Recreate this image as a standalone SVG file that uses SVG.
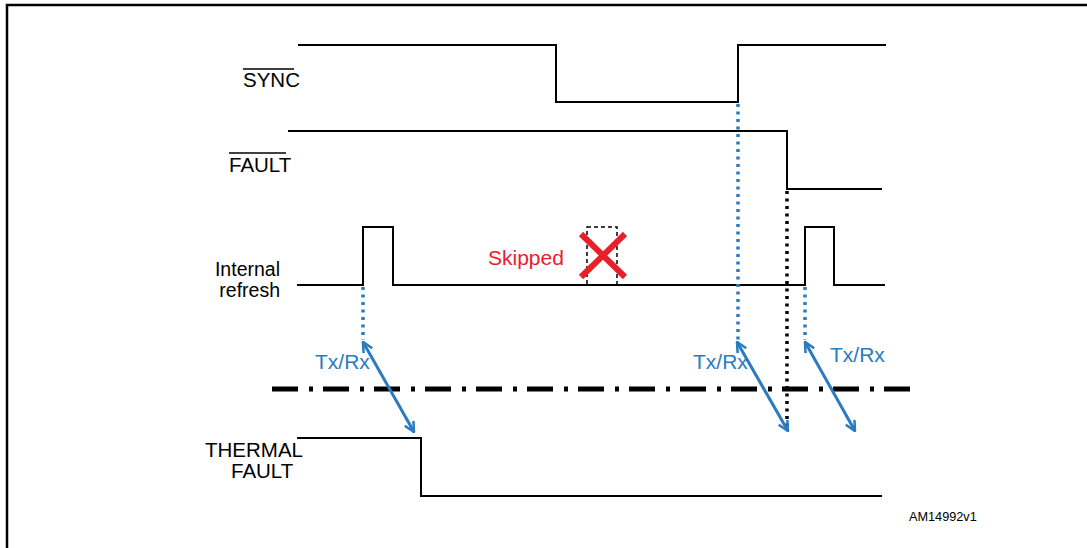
<svg xmlns="http://www.w3.org/2000/svg" width="1087" height="548" viewBox="0 0 1087 548">
<defs>
<style>
.sig{fill:none;stroke:#000;stroke-width:2}
.lbl{font-family:"Liberation Sans",Arial,sans-serif;font-size:20.5px;fill:#000}
.lbl2{font-family:"Liberation Sans",Arial,sans-serif;font-size:19.5px;fill:#000}
.blue{font-family:"Liberation Sans",Arial,sans-serif;font-size:21px;fill:#2a7bbf}
.bdot{stroke:#2a7bbf;stroke-width:3.5;stroke-dasharray:3 4.5;fill:none}
.kdot{stroke:#000;stroke-width:3.5;stroke-dasharray:3 4.5;fill:none}
.arr{stroke:#2a7bbf;stroke-width:3;fill:none;marker-start:url(#ah);marker-end:url(#ah)}
</style>
<marker id="ah" viewBox="0 0 12 12" refX="11" refY="6" markerWidth="12" markerHeight="12" markerUnits="userSpaceOnUse" orient="auto-start-reverse">
<polyline points="1,1 11,6 1,11" fill="none" stroke="#2a7bbf" stroke-width="2.5"/>
</marker>
</defs>
<rect x="0" y="0" width="1087" height="548" fill="#fff"/>
<rect x="7" y="5" width="1100" height="570" fill="none" stroke="#000" stroke-width="2.5"/>

<g id="sync">
<polyline class="sig" points="298,45 556,45 556,102 738,102 738,45 886,45"/>
<text class="lbl" x="243" y="87">SYNC</text>
<line x1="243" y1="69" x2="294" y2="69" stroke="#000" stroke-width="1.5"/>
</g>

<g id="fault">
<polyline class="sig" points="288,131 787,131 787,189 882,189"/>
<text class="lbl" x="229" y="172">FAULT</text>
<line x1="229" y1="153" x2="286" y2="153" stroke="#000" stroke-width="1.5"/>
</g>

<g id="refresh">
<polyline class="sig" points="297,285 363,285 363,227 393,227 393,285 805,285 805,227 834,227 834,285 885,285"/>
<text class="lbl2" text-anchor="end" x="280" y="276">Internal</text>
<text class="lbl2" text-anchor="end" x="280" y="297">refresh</text>
</g>

<g id="skipped">
<rect x="587" y="227" width="30" height="58" fill="none" stroke="#000" stroke-width="1.5" stroke-dasharray="4 3"/>
<line x1="581" y1="234" x2="625" y2="277" stroke="#e8202a" stroke-width="6"/>
<line x1="625" y1="234" x2="581" y2="277" stroke="#e8202a" stroke-width="6"/>
<text x="488" y="265" font-family="Liberation Sans,Arial,sans-serif" font-size="21px" fill="#e8202a">Skipped</text>
</g>

<g id="thermal">
<polyline class="sig" points="297,438 421,438 421,496 882,496"/>
<text class="lbl" x="205" y="457">THERMAL</text>
<text class="lbl" x="231" y="478">FAULT</text>
</g>

<g id="boundary">
<line x1="272" y1="389" x2="912" y2="389" stroke="#000" stroke-width="5" stroke-dasharray="26 11 4 10"/>
</g>

<g id="connectors">
<line class="bdot" x1="363" y1="287" x2="363" y2="340"/>
<line class="bdot" x1="738" y1="104" x2="738" y2="340"/>
<line class="bdot" x1="805" y1="287" x2="805" y2="340"/>
<line class="kdot" x1="787" y1="191" x2="787" y2="430"/>
<line class="arr" x1="363" y1="342" x2="414" y2="432"/>
<line class="arr" x1="737" y1="342" x2="788" y2="431"/>
<line class="arr" x1="805" y1="342" x2="855" y2="431"/>
</g>

<g id="labels">
<text class="blue" x="315" y="369">Tx/Rx</text>
<text class="blue" x="693" y="369">Tx/Rx</text>
<text class="blue" x="830" y="362">Tx/Rx</text>
<text x="909" y="521" font-family="Liberation Sans,Arial,sans-serif" font-size="12.7px" fill="#000">AM14992v1</text>
</g>
</svg>
